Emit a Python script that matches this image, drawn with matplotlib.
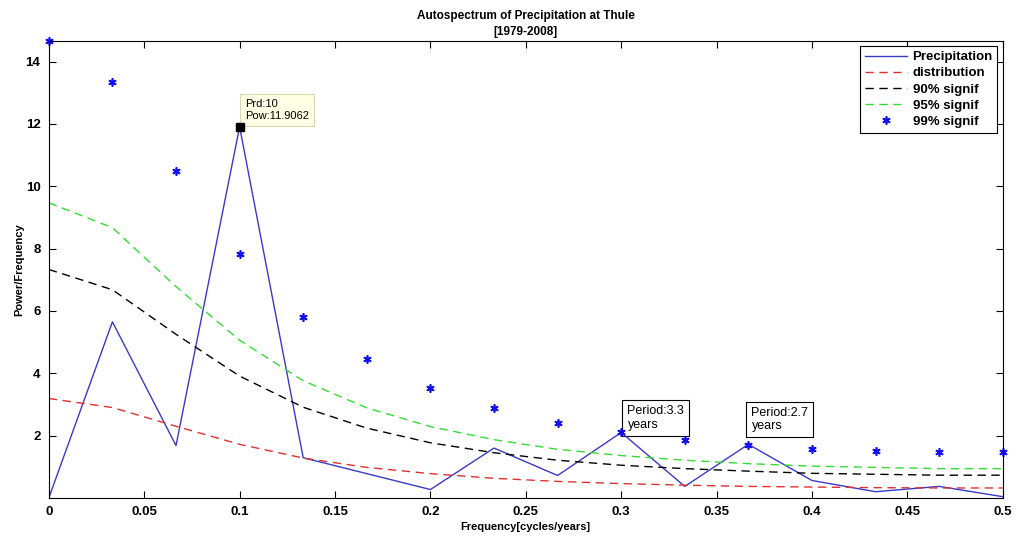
import matplotlib
matplotlib.use("Agg")
import matplotlib.pyplot as plt
import numpy as np

plt.rcParams['font.family'] = ['Liberation Sans', 'DejaVu Sans']

freq = [i / 30 for i in range(16)]
precip = [0.0, 5.65, 1.68, 11.9062, 1.29, 0.78, 0.27, 1.6, 0.72, 2.1, 0.37, 1.72, 0.56, 0.2, 0.37, 0.04]
distribution = [3.19, 2.9, 2.3, 1.72, 1.28, 0.98, 0.78, 0.63, 0.53, 0.46, 0.41, 0.37, 0.35, 0.33, 0.32, 0.32]
signif90 = [7.33, 6.68, 5.25, 3.91, 2.91, 2.24, 1.77, 1.45, 1.21, 1.05, 0.94, 0.86, 0.79, 0.76, 0.73, 0.73]
signif95 = [9.47, 8.67, 6.78, 5.06, 3.76, 2.89, 2.29, 1.87, 1.56, 1.36, 1.21, 1.10, 1.02, 0.98, 0.94, 0.94]
signif99 = [14.66, 13.36, 10.5, 7.83, 5.82, 4.47, 3.54, 2.9, 2.42, 2.1, 1.87, 1.71, 1.58, 1.52, 1.46, 1.46]
xticks = [0, 0.05, 0.1, 0.15, 0.2, 0.25, 0.3, 0.35, 0.4, 0.45, 0.5]
xticklabels = ['0', '0.05', '0.1', '0.15', '0.2', '0.25', '0.3', '0.35', '0.4', '0.45', '0.5']
yticks = [2, 4, 6, 8, 10, 12, 14]

fig = plt.figure(figsize=(10.17, 5.36), dpi=100)
ax = fig.add_axes([0.048, 0.071, 0.938, 0.8525])

ax.plot(freq, precip, color='#3a3ac8', lw=1.0, label='Precipitation')
ax.plot(freq, distribution, color='#e03030', lw=1.0, ls=(0, (6, 4)), label='distribution')
ax.plot(freq, signif90, color='black', lw=1.0, ls=(0, (6, 4)), label='90% signif')
ax.plot(freq, signif95, color='#33dd33', lw=1.0, ls=(0, (6, 4)), label='95% signif')
ax.plot(freq, signif99, ls='none', marker=(6, 2, 0), color='#1010ee', ms=6, mew=1.2, label='99% signif', clip_on=False)

# data tip
ax.plot([freq[3]], [precip[3]], marker='s', color='black', ms=6, ls='none', zorder=5)
ax.text(freq[3] + 0.003, precip[3] + 0.2, 'Prd:10\nPow:11.9062', fontsize=8, va='bottom', ha='left',
        bbox=dict(boxstyle='square,pad=0.45', fc='#ffffe6', ec='#d8d8b0', lw=0.8), linespacing=1.15)

ax.text(0.3033, 2.16, 'Period:3.3\nyears', fontsize=9, va='bottom', ha='left', zorder=1,
        bbox=dict(boxstyle='square,pad=0.4', fc='white', ec='black', lw=0.8), linespacing=1.15)
ax.text(0.3683, 2.11, 'Period:2.7\nyears', fontsize=9, va='bottom', ha='left', zorder=1,
        bbox=dict(boxstyle='square,pad=0.4', fc='white', ec='black', lw=0.8), linespacing=1.15)

ax.set_xlim(0, 0.5)
ax.set_ylim(0, 14.66)
ax.set_xticks(xticks)
ax.set_xticklabels(xticklabels)
ax.set_yticks(yticks)
ax.tick_params(direction='in', top=True, right=True, length=5, labelsize=9.5, pad=6)
for lab in ax.get_xticklabels() + ax.get_yticklabels():
    lab.set_fontweight('bold')

ax.set_title('Autospectrum of Precipitation at Thule\n[1979-2008]', fontsize=8.5, fontweight='bold', pad=4, linespacing=1.45)
ax.set_xlabel('Frequency[cycles/years]', fontsize=8, fontweight='bold', labelpad=3)
ax.set_ylabel('Power/Frequency', fontsize=8, fontweight='bold', labelpad=1)

leg = ax.legend(loc='upper right', prop={'weight': 'bold', 'size': 9.5}, fancybox=False, edgecolor='black',
                framealpha=1, handlelength=3.2, borderaxespad=0.4, labelspacing=0.3, handletextpad=0.4,
                borderpad=0.35)
leg.get_frame().set_linewidth(0.8)

fig.savefig('out.png', dpi=100)
